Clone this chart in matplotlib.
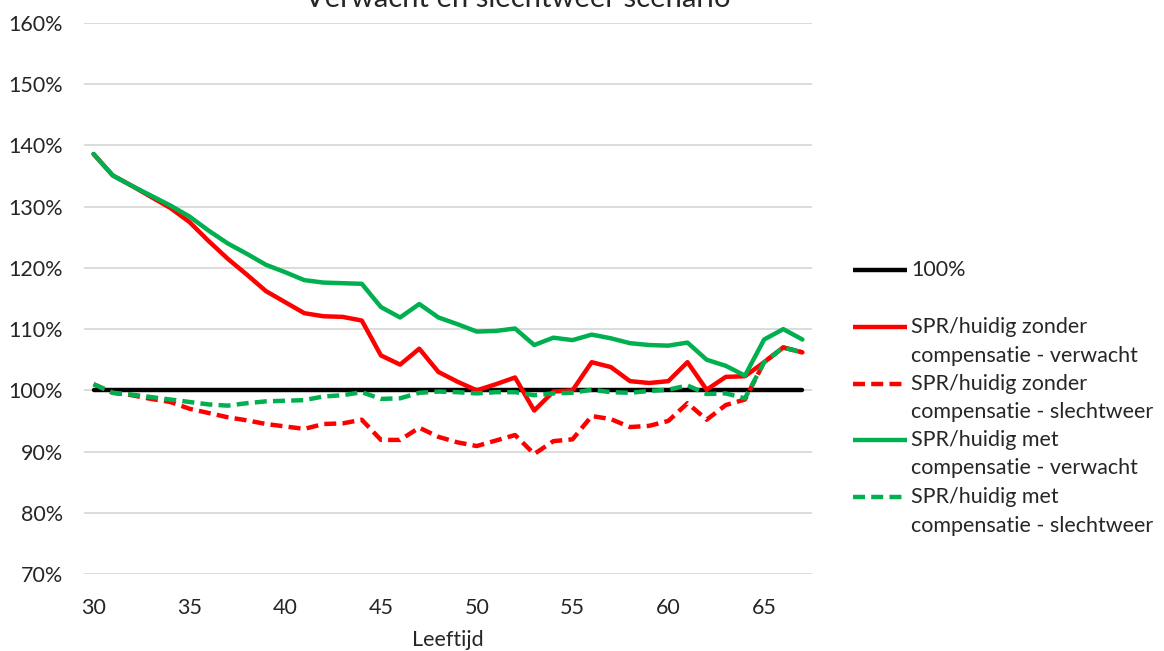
import matplotlib
matplotlib.use("Agg")
import matplotlib.pyplot as plt
from matplotlib.lines import Line2D
from matplotlib.ticker import FuncFormatter

plt.rcParams['font.family'] = ['Lato', 'DejaVu Sans']

ages = list(range(30, 68))

zonder_verwacht = [138.6, 135.1, 133.4, 131.6, 129.8, 127.5, 124.4, 121.5, 118.9, 116.2,
                   114.4, 112.6, 112.1, 112.0, 111.4, 105.7, 104.2, 106.8, 103.0, 101.4,
                   100.0, 101.0, 102.1, 96.7, 99.8, 100.0, 104.6, 103.8, 101.5, 101.2,
                   101.5, 104.6, 100.1, 102.2, 102.3, 104.6, 107.0, 106.2]
zonder_slechtweer = [101.0, 99.6, 99.2, 98.6, 98.1, 97.0, 96.3, 95.6, 95.1, 94.5,
                     94.1, 93.7, 94.5, 94.6, 95.2, 91.9, 91.9, 93.9, 92.4, 91.5,
                     90.9, 91.8, 92.7, 89.6, 91.7, 92.0, 95.8, 95.3, 94.0, 94.2,
                     95.0, 97.9, 95.2, 97.6, 98.5, 104.6, 107.0, 106.2]
met_verwacht = [138.6, 135.1, 133.4, 131.8, 130.2, 128.4, 126.1, 124.0, 122.3, 120.5,
                119.3, 118.0, 117.6, 117.5, 117.4, 113.6, 111.9, 114.1, 111.9, 110.8,
                109.6, 109.7, 110.1, 107.4, 108.6, 108.2, 109.1, 108.5, 107.7, 107.4,
                107.3, 107.8, 105.0, 104.0, 102.4, 108.3, 110.0, 108.3]
met_slechtweer = [101.0, 99.6, 99.3, 98.9, 98.5, 98.1, 97.7, 97.5, 97.9, 98.2,
                  98.3, 98.4, 99.0, 99.2, 99.7, 98.6, 98.7, 99.6, 99.8, 99.7,
                  99.5, 99.7, 99.7, 99.2, 99.5, 99.6, 100.1, 99.7, 99.6, 99.9,
                  100.1, 100.8, 99.4, 99.5, 98.7, 104.6, 107.0, 106.2]
baseline = [100.0] * len(ages)

labels = ["100%",
          "SPR/huidig zonder\ncompensatie - verwacht",
          "SPR/huidig zonder\ncompensatie - slechtweer",
          "SPR/huidig met\ncompensatie - verwacht",
          "SPR/huidig met\ncompensatie - slechtweer"]

title = "Verwacht en slechtweer scenario"
xlabel = "Leeftijd"
yticks = list(range(70, 161, 10))
xticks = list(range(30, 66, 5))

W, H = 1164, 651
fig = plt.figure(figsize=(W / 100, H / 100), dpi=100)

def fx(px):
    return px / W

def fy(py):
    return 1 - py / H

ax = fig.add_axes([fx(84), fy(574), fx(812) - fx(84), fy(23) - fy(574)])

RED = '#FF0000'
GREEN = '#00B050'
LW = 3.2
DASH = (2.7, 1.4)
FS = 15.5
TXT = '#262626'

styles = [
    dict(color='black', lw=LW, ls='-'),
    dict(color=RED, lw=LW, ls='-'),
    dict(color=RED, lw=LW, dashes=DASH),
    dict(color=GREEN, lw=LW, ls='-'),
    dict(color=GREEN, lw=LW, dashes=DASH),
]
series = [baseline, zonder_verwacht, zonder_slechtweer, met_verwacht, met_slechtweer]

for s, st in zip(series, styles):
    ax.plot(ages, s, solid_capstyle='round', dash_capstyle='butt', solid_joinstyle='round', **st)

ax.set_xlim(29.5, 67.5)
ax.set_ylim(70, 160)
ax.set_yticks(yticks)
ax.set_xticks(xticks)
ax.yaxis.set_major_formatter(FuncFormatter(lambda v, p: f"{int(round(v))}%"))
ax.grid(axis='y', color='#D9D9D9', lw=1.3)
ax.set_axisbelow(True)
for sp in ax.spines.values():
    sp.set_visible(False)
ax.tick_params(axis='both', length=0, labelsize=FS, colors=TXT)
ax.tick_params(axis='y', pad=15)
ax.tick_params(axis='x', pad=17)
ax.set_xlabel(xlabel, fontsize=FS, color=TXT, labelpad=9)

fig.text(fx(518), fy(7), title, ha='center', va='baseline', fontsize=21, color=TXT)

# legend
handle_y = [270, 327, 384, 440, 497]
for lab, st, hy in zip(labels, styles, handle_y):
    fig.add_artist(Line2D([fx(853), fx(907)], [fy(hy), fy(hy)], transform=fig.transFigure,
                          solid_capstyle='butt', dash_capstyle='butt', **st))
    for i, ln in enumerate(lab.split("\n")):
        fig.text(fx(911), fy(hy + i * 28.5), ln, ha='left', va='center', fontsize=FS, color=TXT)

fig.savefig("out.png", dpi=100)
